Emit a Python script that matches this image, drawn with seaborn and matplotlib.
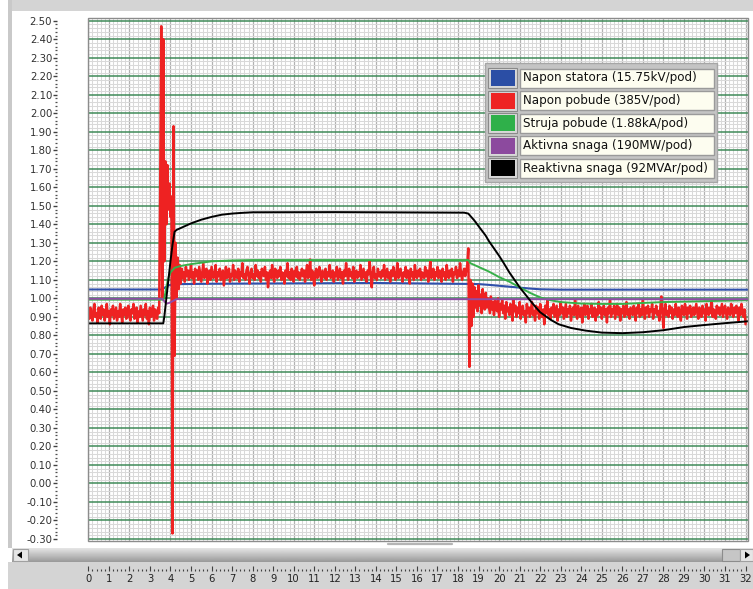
import numpy as np
import pandas as pd
import matplotlib
matplotlib.use("Agg")
import matplotlib.pyplot as plt
from matplotlib.patches import Rectangle, Polygon
from matplotlib.lines import Line2D
from matplotlib.ticker import MultipleLocator, FormatStrFormatter
import seaborn as sns

# ---------------- data ----------------
series_names = ["Napon statora (15.75kV/pod)", "Napon pobude (385V/pod)",
                "Struja pobude (1.88kA/pod)", "Aktivna snaga (190MW/pod)",
                "Reaktivna snaga (92MVAr/pod)"]
series_colors = ["#2f50ab", "#ee2222", "#38b04a", "#8f4ca6", "#000000"]
swatch_colors = ["#2b4ea5", "#ee2424", "#2fb04a", "#8c4a9e", "#000000"]

t_blue = [0, 3.6, 3.75, 3.9, 4.1, 4.5, 6, 10, 14, 18.5, 19.0, 19.5, 20.0, 20.5,
          21.0, 21.5, 22.0, 23.0, 32.2]
blue = [1.048, 1.048, 1.060, 1.070, 1.075, 1.077, 1.079, 1.081, 1.083, 1.078, 1.077,
        1.073, 1.068, 1.063, 1.058, 1.053, 1.049, 1.047, 1.047]

t_purple = [0, 3.6, 3.7, 3.8, 3.95, 4.3, 32.2]
purple = [0.998, 0.998, 0.985, 0.971, 0.976, 0.996, 0.995]

t_green = [0, 3.65, 3.7, 3.8, 3.9, 4.0, 4.2, 4.5, 5.0, 6.0, 7.0, 8.0, 12, 18.5, 18.6,
           19.0, 19.5, 20.0, 20.5, 21.0, 21.5, 22.0, 22.5, 23.0, 24, 25, 26, 27, 28,
           30, 32.2]
green = [0.993, 0.993, 1.00, 1.06, 1.11, 1.14, 1.165, 1.175, 1.185, 1.200, 1.205,
         1.207, 1.207, 1.207, 1.19, 1.17, 1.145, 1.115, 1.09, 1.06, 1.03, 1.005, 0.99,
         0.98, 0.972, 0.97, 0.97, 0.975, 0.98, 0.985, 0.99]

t_black = [0, 3.65, 3.7, 3.8, 3.9, 4.0, 4.1, 4.2, 4.3, 4.5, 5.0, 5.5, 6.0, 6.5, 7.0,
           7.5, 8.0, 12, 18.3, 18.5, 18.8, 19.0, 19.34, 19.5, 20.0, 20.2, 20.5, 21.0,
           21.5, 21.8, 22.0, 22.5, 22.9, 23.5, 24.2, 25, 26, 27, 28, 29, 30, 31, 32.2]
black = [0.865, 0.865, 0.90, 1.00, 1.10, 1.20, 1.29, 1.36, 1.37, 1.38, 1.405, 1.425,
         1.44, 1.452, 1.458, 1.462, 1.465, 1.466, 1.463, 1.458, 1.42, 1.39, 1.34, 1.31,
         1.23, 1.195, 1.14, 1.06, 0.99, 0.95, 0.925, 0.885, 0.86, 0.84, 0.826, 0.815,
         0.812, 0.817, 0.828, 0.845, 0.856, 0.866, 0.877]

# red (Napon pobude) sampled every 0.05 s, in segments with their start time
red_dt = 0.05
red_seg_start = [0.0, 3.50, 4.30, 18.50, 19.50]
red_seg_a = [0.93, 0.89, 0.95, 0.91, 0.88, 0.94, 0.97, 0.90, 0.92, 0.87,
             0.95, 0.93, 0.89, 0.96, 0.91, 0.94, 0.88, 0.92, 0.97, 0.90,
             0.93, 0.86, 0.94, 0.91, 0.96, 0.89, 0.92, 0.95, 0.88, 0.93,
             0.90, 0.97, 0.92, 0.87, 0.94, 0.91, 0.95, 0.89, 0.93, 0.96,
             0.90, 0.88, 0.94, 0.92, 0.97, 0.89, 0.91, 0.95, 0.87, 0.93,
             0.90, 0.96, 0.92, 0.88, 0.94, 0.91, 0.97, 0.89, 0.93, 0.86,
             0.95, 0.90, 0.92, 0.96, 0.88, 0.94, 0.91, 0.89, 0.95, 0.92]
red_seg_b = [1.60, 2.47, 1.00, 2.40, 1.20, 1.74, 1.40, 1.72, 1.48, 1.62, 1.44, 1.55,
             -0.27, 1.93, 0.69, 1.30]
red_seg_c = [1.00, 1.22, 1.05, 1.18, 1.08, 1.16, 1.11, 1.14, 1.09, 1.17, 1.12, 1.15, 1.10, 1.13, 1.18, 1.11, 1.14, 1.08, 1.16, 1.12,
             1.15, 1.10, 1.17, 1.13, 1.09, 1.14, 1.19, 1.11, 1.13, 1.16, 1.08, 1.12, 1.15, 1.10, 1.17, 1.14, 1.11, 1.13, 1.18, 1.09,
             1.14, 1.12, 1.16, 1.10, 1.13, 1.15, 1.07, 1.12, 1.17, 1.11, 1.14, 1.16, 1.09, 1.13, 1.12, 1.18, 1.10, 1.15, 1.13, 1.11,
             1.16, 1.09, 1.14, 1.12, 1.19, 1.11, 1.13, 1.10, 1.15, 1.17, 1.12, 1.08, 1.14, 1.16, 1.11, 1.13, 1.10, 1.18, 1.12, 1.15,
             1.11, 1.14, 1.09, 1.16, 1.13, 1.12, 1.17, 1.10, 1.14, 1.06, 1.13, 1.15, 1.11, 1.18, 1.12, 1.09, 1.16, 1.13, 1.11, 1.15,
             1.12, 1.17, 1.10, 1.14, 1.13, 1.08, 1.15, 1.12, 1.19, 1.11, 1.14, 1.10, 1.16, 1.13, 1.09, 1.15, 1.12, 1.17, 1.11, 1.14,
             1.10, 1.13, 1.16, 1.12, 1.15, 1.09, 1.14, 1.18, 1.11, 1.13, 1.21, 1.10, 1.15, 1.12, 1.07, 1.14, 1.16, 1.11, 1.13, 1.17,
             1.12, 1.09, 1.15, 1.13, 1.11, 1.16, 1.10, 1.14, 1.12, 1.18, 1.11, 1.13, 1.15, 1.09, 1.14, 1.12, 1.17, 1.10, 1.13, 1.16,
             1.11, 1.14, 1.08, 1.15, 1.12, 1.19, 1.13, 1.10, 1.16, 1.12, 1.14, 1.11, 1.17, 1.09, 1.13, 1.15, 1.11, 1.14, 1.12, 1.18,
             1.10, 1.13, 1.16, 1.11, 1.14, 1.09, 1.15, 1.13, 1.20, 1.12, 1.06, 1.14, 1.17, 1.11, 1.13, 1.10, 1.16, 1.12, 1.14, 1.11,
             1.15, 1.12, 1.18, 1.10, 1.13, 1.16, 1.11, 1.14, 1.09, 1.15, 1.12, 1.17, 1.13, 1.10, 1.14, 1.19, 1.11, 1.13, 1.16, 1.12,
             1.09, 1.14, 1.12, 1.17, 1.11, 1.15, 1.13, 1.08, 1.16, 1.12, 1.14, 1.10, 1.18, 1.13, 1.11, 1.15, 1.12, 1.16, 1.10, 1.14,
             1.13, 1.11, 1.17, 1.12, 1.15, 1.09, 1.14, 1.20, 1.11, 1.13, 1.16, 1.10, 1.14, 1.12, 1.17, 1.11, 1.15, 1.13, 1.09, 1.16,
             1.12, 1.14, 1.10, 1.18, 1.13, 1.11, 1.15, 1.12, 1.16, 1.09, 1.14, 1.13, 1.17, 1.11, 1.15, 1.12, 1.19, 1.13, 1.10, 1.14,
             1.16, 1.12, 1.15, 1.18]
red_seg_d = [1.27, 0.63, 1.10, 0.85, 1.08, 0.90, 1.06, 0.95, 1.04, 0.93,
             1.07, 0.96, 1.02, 0.92, 1.05, 0.97, 0.94, 1.03, 0.95, 1.00]
red_seg_e = [0.96, 0.92, 1.01, 0.94, 0.98, 0.91, 0.99, 0.95, 0.93, 1.00, 0.90, 0.97, 0.94, 0.99, 0.92, 0.96, 0.89, 0.98, 0.93, 0.95,
             0.91, 0.97, 0.94, 0.88, 0.99, 0.93, 0.96, 0.90, 0.95, 0.92, 0.98, 0.89, 0.94, 0.96, 0.91, 0.93, 0.87, 0.97, 0.92, 0.95,
             0.90, 0.94, 0.98, 0.91, 0.93, 0.88, 0.96, 0.92, 0.95, 0.89, 0.97, 0.93, 0.90, 0.94, 0.86, 0.96, 0.92, 0.99, 0.91, 0.94,
             0.89, 0.95, 0.92, 0.97, 0.90, 0.93, 0.96, 0.88, 0.94, 0.91, 0.98, 0.92, 0.95, 0.89, 0.93, 0.97, 0.90, 0.94, 0.92, 0.96,
             0.88, 0.93, 0.95, 0.91, 0.99, 0.92, 0.89, 0.96, 0.93, 0.90, 0.95, 0.87, 0.94, 0.97, 0.91, 0.93, 0.96, 0.89, 0.94, 0.92,
             0.97, 0.90, 0.93, 0.95, 0.88, 0.94, 0.91, 0.98, 0.92, 0.95, 0.89, 0.93, 0.96, 0.91, 0.94, 0.87, 0.95, 0.92, 0.99, 0.90,
             0.94, 0.92, 0.96, 0.89, 0.93, 0.97, 0.91, 0.95, 0.88, 0.94, 0.92, 0.96, 0.90, 0.93, 0.98, 0.91, 0.94, 0.89, 0.95, 0.93,
             0.91, 0.96, 0.93, 0.88, 0.95, 0.92, 0.97, 0.90, 0.94, 0.91, 0.99, 0.93, 0.89, 0.95, 0.92, 0.96, 0.90, 0.94, 0.93, 0.97,
             0.89, 0.94, 0.92, 0.96, 0.91, 0.93, 0.88, 0.95, 1.01, 0.92, 0.84, 0.94, 0.97, 0.91, 0.93, 0.90, 0.96, 0.92, 0.95, 0.89,
             0.94, 0.91, 0.97, 0.93, 0.90, 0.95, 0.92, 0.88, 0.96, 0.93, 0.91, 0.97, 0.94, 0.89, 0.95, 0.92, 0.96, 0.90, 0.93, 0.95,
             0.91, 0.94, 0.97, 0.92, 0.89, 0.95, 0.93, 0.90, 0.96, 0.92, 0.94, 0.88, 0.97, 0.93, 0.91, 0.95, 0.92, 0.98, 0.90, 0.94,
             0.93, 0.89, 0.96, 0.92, 0.95, 0.91, 0.94, 0.97, 0.90, 0.93, 0.96, 0.92, 0.89, 0.95, 0.93, 0.91, 0.97, 0.94, 0.90, 0.95,
             0.92, 0.96, 0.93, 0.88, 0.95, 0.91, 0.97, 0.93, 0.90, 0.94, 0.86]

y_tick_min, y_tick_max, y_tick_step = -0.30, 2.50, 0.10
x_tick_labels = ["0", "1", "2", "3", "4", "5", "6", "7", "8", "9", "10", "11", "12",
                 "13", "14", "15", "16", "17", "18", "19", "20", "21", "22", "23",
                 "24", "25", "26", "27", "28", "29", "30", "31", "32"]

# ---------------- build frames ----------------
red_t, red_v = [], []
for start, seg in zip(red_seg_start, [red_seg_a, red_seg_b, red_seg_c, red_seg_d, red_seg_e]):
    red_t.extend(start + red_dt * np.arange(len(seg)))
    red_v.extend(seg)

frames = [
    pd.DataFrame({"t": t_blue, "v": blue}),
    pd.DataFrame({"t": red_t, "v": red_v}),
    pd.DataFrame({"t": t_green, "v": green}),
    pd.DataFrame({"t": t_purple, "v": purple}),
    pd.DataFrame({"t": t_black, "v": black}),
]
line_widths = [1.5, 1.8, 1.4, 1.4, 1.4]

# ---------------- figure ----------------
sns.set_style("white")
plt.rcParams["font.family"] = ["DejaVu Sans"]
plt.rcParams["axes.unicode_minus"] = False

W, H = 753, 589
fig = plt.figure(figsize=(W / 100, H / 100), dpi=100, facecolor="white")


def box(x0, y0, x1, y1):
    return [x0 / W, 1 - y1 / H, (x1 - x0) / W, (y1 - y0) / H]


def P(x, y):
    return (x / W, 1 - y / H)


def frect(x0, y0, x1, y1, **kw):
    r = Rectangle(P(x0, y1), (x1 - x0) / W, (y1 - y0) / H,
                  transform=fig.transFigure, figure=fig, **kw)
    fig.add_artist(r)
    return r


# frame decorations
frect(8, 0, 753, 10.5, fc="#d4d4d4", ec="none", zorder=0)
frect(8, 0, 11.5, 548, fc="#c9c9c9", ec="none", zorder=0)
frect(8, 562, 753, 589, fc="#d4d4d4", ec="none", zorder=0)

# scrollbar
sax = fig.add_axes(box(11.5, 548, 753, 562))
grad = np.linspace(0.90, 0.60, 40).reshape(-1, 1)
sax.imshow(grad, aspect="auto", cmap="gray", vmin=0, vmax=1, extent=[0, 1, 0, 1])
sax.axis("off")
frect(12.5, 549, 28, 561, fc="#e6e6e6", ec="#a0a0a0", lw=0.8, zorder=5)
fig.add_artist(Polygon([P(17, 555), P(22, 551.5), P(22, 558.5)], closed=True,
                       transform=fig.transFigure, fc="black", ec="none", zorder=6))
frect(722, 549, 740, 561, fc="#c6c6c6", ec="#8c8c8c", lw=0.8, zorder=5)
frect(740, 549, 753, 561, fc="#e6e6e6", ec="#a0a0a0", lw=0.8, zorder=5)
fig.add_artist(Polygon([P(750, 555), P(745, 551.5), P(745, 558.5)], closed=True,
                       transform=fig.transFigure, fc="black", ec="none", zorder=6))
fig.add_artist(Line2D([388 / W, 452 / W], [1 - 543.5 / H] * 2, transform=fig.transFigure,
                      color="#b4b4b4", lw=1.6))

# main plot area
px_per_x = 20.54
px_per_y = 185.1
x0_px, right_px, top_px, bot_px = 88.3, 748, 18, 541
ax = fig.add_axes(box(x0_px, top_px, right_px, bot_px))
ax.set_facecolor("white")
ax.set_xlim(0, (right_px - x0_px) / px_per_x)
ax.set_ylim(y_tick_min - (bot_px - 539) / px_per_y, y_tick_max + (20.7 - top_px) / px_per_y)

for i, df in enumerate(frames):
    sns.lineplot(data=df, x="t", y="v", ax=ax, color=series_colors[i],
                 lw=line_widths[i], estimator=None, sort=False, zorder=3 + i)

ax.xaxis.set_major_locator(MultipleLocator(1))
ax.xaxis.set_minor_locator(MultipleLocator(0.2))
ax.yaxis.set_major_locator(MultipleLocator(y_tick_step))
ax.yaxis.set_minor_locator(MultipleLocator(0.02))
ax.yaxis.set_major_formatter(FormatStrFormatter("%.2f"))
ax.grid(which="minor", axis="both", color="#d9d9d9", lw=0.75)
ax.grid(which="major", axis="x", color="#b2b2b2", lw=0.9)
ax.grid(which="major", axis="y", color="#3f8a58", lw=1.1)
ax.set_axisbelow(True)
ax.set_xlabel("")
ax.set_ylabel("")
ax.tick_params(axis="x", which="both", bottom=False, labelbottom=False)
ax.tick_params(axis="y", which="major", left=True, length=2.9, width=1.0,
               color="#404040", labelsize=7.3, labelcolor="#303030", pad=0.8,
               direction="out")
ax.tick_params(axis="y", which="minor", left=True, length=1.1, width=0.9, color="#505050",
               direction="out")
for s in ax.spines.values():
    s.set_visible(False)
ax.spines["left"].set_position(("outward", 31 * 0.72))
ax.add_patch(Rectangle((0, 0), 1, 1, transform=ax.transAxes, fill=False,
                       ec="#8c8c8c", lw=1.0, zorder=20, clip_on=False))

# legend (LabVIEW style plot legend)
frect(485, 63, 717, 182, fc="#c4c4c4", ec="#a6a6a6", lw=1.0, zorder=30)
for i, name in enumerate(series_names):
    cy = 78 + 22.6 * i
    frect(488, cy - 10, 517, cy + 10, fc="#d8d8d8", ec="#8a8a8a", lw=0.8, zorder=31)
    frect(490.5, cy - 8, 514.5, cy + 8, fc=swatch_colors[i], ec="none", zorder=32)
    frect(520, cy - 9.5, 714, cy + 9.5, fc="#fdfdf0", ec="#9a9a9a", lw=1.0, zorder=31)
    fig.text(523 / W, 1 - cy / H, name, fontsize=8.6, color="#111111",
             va="center", ha="left", zorder=33)

# x ruler below the scrollbar
rax = fig.add_axes(box(x0_px, 566, right_px, 571))
rax.set_facecolor("none")
rax.set_xlim(ax.get_xlim())
rax.set_yticks([])
for s in rax.spines.values():
    s.set_visible(False)
rax.set_xticks(range(len(x_tick_labels)))
rax.set_xticklabels(x_tick_labels, fontsize=8, fontstretch="condensed", color="#222222")
rax.xaxis.set_minor_locator(MultipleLocator(0.2))
rax.tick_params(axis="x", which="major", bottom=True, direction="in", length=3.4,
                width=0.8, color="#404040", pad=2.2)
rax.tick_params(axis="x", which="minor", bottom=True, direction="in", length=1.7,
                width=0.8, color="#404040")

fig.savefig("out.png", dpi=100, facecolor="white")
